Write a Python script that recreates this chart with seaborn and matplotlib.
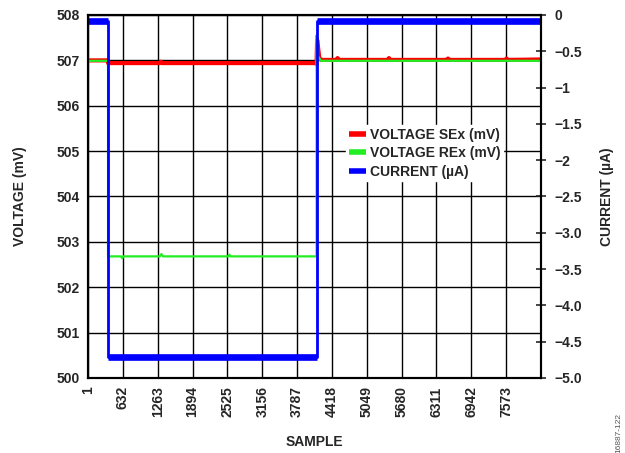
import pandas as pd
import numpy as np
import matplotlib
matplotlib.use("Agg")
import matplotlib.pyplot as plt
import seaborn as sns

# breakpoints (sample index, value)
sex_samples = [1, 364, 364, 1300, 1320, 1340, 4120, 4140, 4150, 4190, 4230,
               4500, 4520, 4540, 5430, 5450, 5470, 6500, 6520, 6540, 7560, 7580, 7600, 8204]
sex_mv = [507.0, 507.0, 506.94, 506.94, 506.97, 506.94, 506.94, 506.92, 507.45, 507.05, 507.01,
          507.01, 507.05, 507.01, 507.01, 507.05, 507.01, 507.01, 507.04, 507.01, 507.01, 507.04, 507.01, 507.02]

rex_samples = [1, 364, 364, 600, 620, 640, 1300, 1330, 1360, 2540, 2560, 2580, 4140, 4140, 4160, 4220, 8204]
rex_mv = [506.99, 506.99, 502.68, 502.68, 502.64, 502.68, 502.68, 502.73, 502.68, 502.68, 502.72, 502.68,
          502.68, 507.55, 507.1, 506.99, 506.99]

cur_samples = [1, 364, 364, 4140, 4140, 8204]
cur_ua = [-0.08, -0.08, -4.71, -4.71, -0.08, -0.08]
cur_state = ["high", "high", "low", "low", "high2", "high2"]

xticks = [1, 632, 1263, 1894, 2525, 3156, 3787, 4418, 5049, 5680, 6311, 6942, 7573]
x_max = 8204

sns.set_style("white")
plt.rcParams["font.family"] = ["Liberation Sans", "DejaVu Sans"]
plt.rcParams["font.weight"] = "bold"
plt.rcParams["lines.solid_capstyle"] = "butt"

sex = pd.DataFrame({"sample": sex_samples, "mv": sex_mv})
rex = pd.DataFrame({"sample": rex_samples, "mv": rex_mv})
cur = pd.DataFrame({"sample": cur_samples, "ua": cur_ua, "state": cur_state})

fig = plt.figure(figsize=(6.25, 4.53), dpi=100)
ax = fig.add_axes([0.1408, 0.1656, 0.7248, 0.8013])
ax2 = ax.twinx()

sns.lineplot(data=sex, x="sample", y="mv", ax=ax, color="#ff0000", lw=3.0,
             estimator=None, sort=False, label="VOLTAGE SEx (mV)", legend=False)
sns.lineplot(data=rex, x="sample", y="mv", ax=ax, color="#22ee22", lw=1.6,
             estimator=None, sort=False, label="VOLTAGE REx (mV)", legend=False)
# full trace (thin edges) + noisy flat levels (thick band)
sns.lineplot(data=cur, x="sample", y="ua", ax=ax2, color="#0000ff", lw=2.0,
             estimator=None, sort=False, label="CURRENT (µA)", legend=False)
sns.lineplot(data=cur, x="sample", y="ua", units="state", ax=ax2, color="#0000ff", lw=4.8,
             estimator=None, sort=False, legend=False)

ax.set_xlim(1, x_max)
ax.set_ylim(500, 508)
ax.set_yticks(range(500, 509))
ax.set_xticks(xticks)
ax.set_xticklabels([str(t) for t in xticks], rotation=90, fontsize=10, fontweight="bold")
ax.tick_params(axis="both", length=0, labelsize=10, pad=6)
for lab in ax.get_yticklabels():
    lab.set_fontweight("bold")
ax.grid(True, color="black", lw=1.0)
ax.set_axisbelow(True)
ax.set_xlabel("SAMPLE", fontsize=10, fontweight="bold", labelpad=13)
ax.set_ylabel("VOLTAGE (mV)", fontsize=10, fontweight="bold", labelpad=21)

ax2.set_ylim(-5.0, 0)
yt = [0, -0.5, -1, -1.5, -2, -2.5, -3.0, -3.5, -4.0, -4.5, -5.0]
ylabs = ["0", "−0.5", "−1", "−1.5", "−2", "−2.5", "−3.0", "−3.5", "−4.0", "−4.5", "−5.0"]
ax2.set_yticks(yt)
ax2.set_yticklabels(ylabs, fontsize=10, fontweight="bold")
ax2.tick_params(axis="y", direction="inout", length=7, width=1.2, pad=6)
ax2.set_ylabel("CURRENT (µA)", fontsize=10, fontweight="bold", labelpad=13)
ax2.grid(False)

for a in (ax, ax2):
    for s in a.spines.values():
        s.set_visible(True)
        s.set_color("black")
        s.set_linewidth(1.5)

h1, l1 = ax.get_legend_handles_labels()
h2, l2 = ax2.get_legend_handles_labels()
leg = ax2.legend(h1 + h2[:1], l1 + l2[:1], loc="upper left", bbox_to_anchor=(0.555, 0.715),
                 frameon=True, fancybox=False, framealpha=1, edgecolor="white",
                 handlelength=1.2, handletextpad=0.3, borderpad=0.2, labelspacing=0.3,
                 prop={"size": 10, "weight": "bold"})
for line in leg.get_lines():
    line.set_linewidth(4)

fig.text(0.99, 0.0, "16887-122", rotation=90, fontsize=6, color="#555555",
         ha="center", va="bottom", fontweight="normal")

fig.savefig("out.png", dpi=100)
